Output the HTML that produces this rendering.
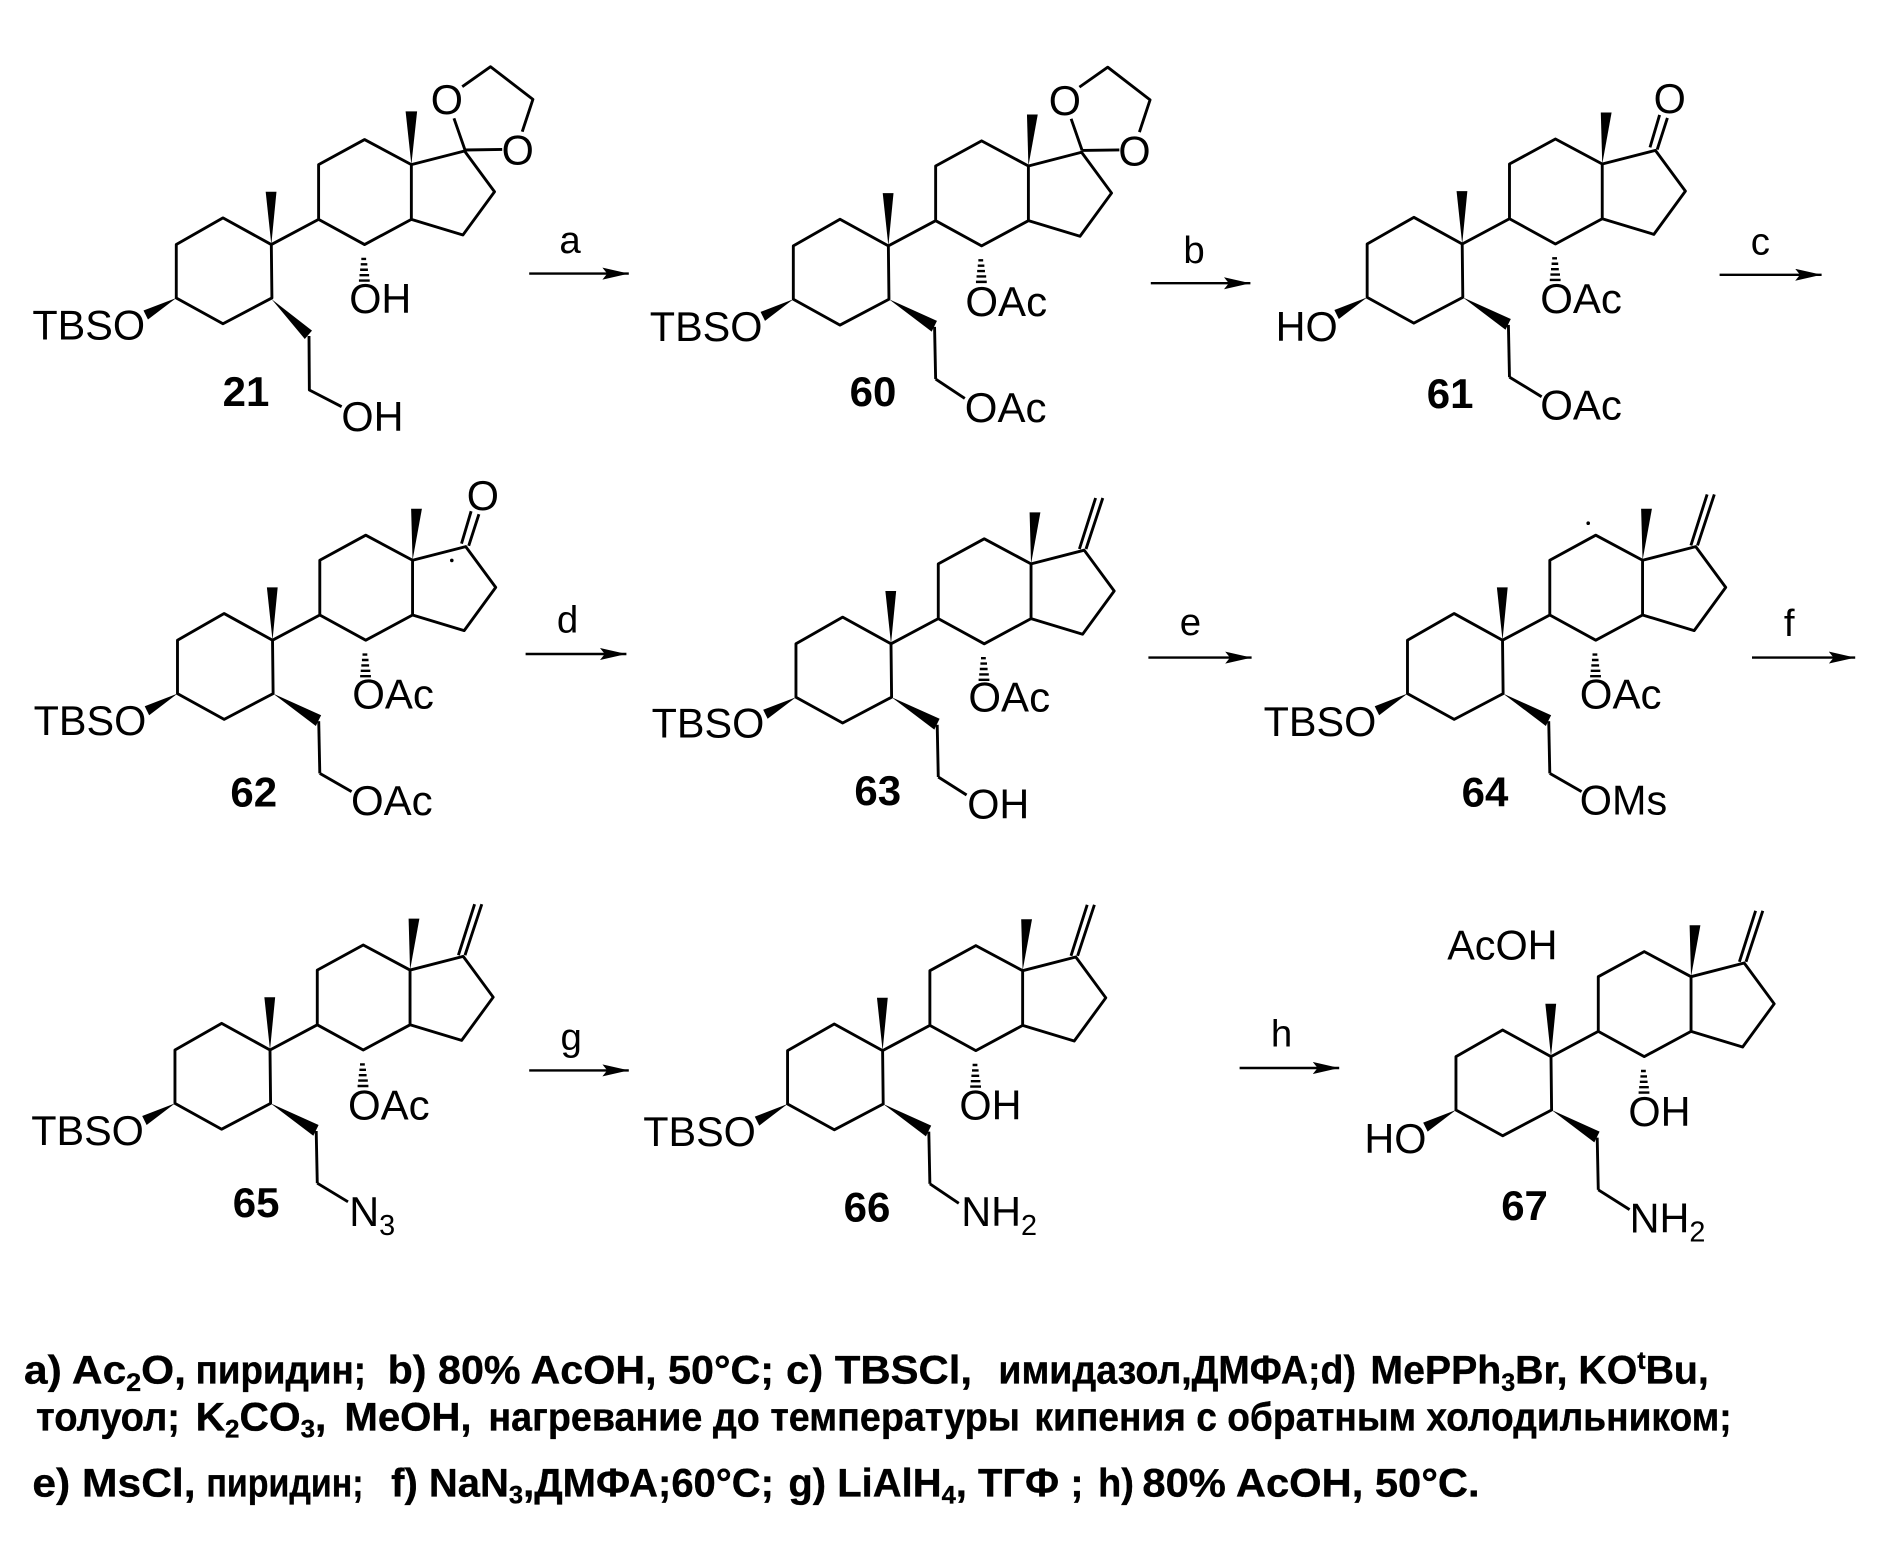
<!DOCTYPE html>
<html><head><meta charset="utf-8"><style>
html,body{margin:0;padding:0;background:#fff}
svg{display:block}
text{font-family:"Liberation Sans",sans-serif;fill:#000}
.b{font-weight:700;font-size:35px}
.t{font-size:34.5px}
.o{font-size:35px}
.a{font-size:32px}
.n{font-weight:700;font-size:33px;stroke:#000;stroke-width:.3}
.s{font-size:24px}
.ns{font-size:21px}
.l{fill:none;stroke:#000;stroke-width:2.4;stroke-linejoin:round}
</style></head><body>
<svg xmlns="http://www.w3.org/2000/svg" width="1881" height="1557" viewBox="0 0 1567.5 1297.5">
<rect width="1567.5" height="1297.5" fill="#fff"/>
<defs>
<g id="m">
<path class="l" d="M146.3 249L146.3 204.5L185.2 182.3L225.5 204.5L226 249L185.2 270.5ZM225.5 204.5L264.9 183.5L264.9 137.9L303.2 117L342.2 137.9L342.2 183.5L303.2 204.5L264.9 183.5M342.2 137.9L386.5 126.5L411.5 160.5L385.2 196.5L342.2 183.5"/>
<polygon points="225.5,204.5 220.8,160.5 229.8,160.5"/>
<polygon points="146.3,249 119,259.5 122.7,267"/>
<path d="M300.5 216.5h4M300 221h5.5M299.5 225.5h6.5M299 230h8M298.5 234.5h9" stroke="#000" stroke-width="2"/>
</g>
<g id="w">
<polygon points="342.2,137.9 341,95 350,95"/>
<polygon points="226,249 266,267 261.6,276"/>
<path class="l" d="M264 272L264.9 315.5"/>
</g>
<g id="d"><path class="l" d="M387 125L377.8 98.6M387 125L418 124.5M384.7 72.2L408.3 55.6L443.6 82.8L434.7 109.7"/></g>
<g id="k"><path class="l" d="M382 124L390 97M388 125.8L396.5 99.5"/></g>
<g id="c"><path class="l" d="M382.5 125.5L396 83M388 125.5L402 83"/></g>
<marker id="h" markerWidth="24" markerHeight="12" refX="22" refY="5" orient="auto" markerUnits="userSpaceOnUse"><path d="M0 0L22 5L0 10L4 5Z"/></marker>
</defs>

<!-- 21 -->
<g transform="translate(0.6 -0.7)"><use href="#m"/><polygon points="342.2,137.9 337.4,93.5 347,93.5"/></g>
<polygon points="226.4,249.4 260,275.5 254,282.5"/>
<path class="l" d="M257.5 280L257.8 325L284.7 338.9"/>
<use href="#d" x="0.5"/>
<text class="t" x="27" y="283">TBSO</text><text class="t" x="291" y="261">OH</text><text class="t" x="284.5" y="359">OH</text>
<text class="t" x="359" y="95">O</text><text class="t" x="418" y="137">O</text>
<text class="b" x="185.5" y="338.3">21</text>

<!-- 60 -->
<g transform="translate(514.8 0.4)"><use href="#m"/><use href="#w"/><use href="#d"/></g>
<path class="l" d="M779.7 315.9L804 332"/>
<text class="t" x="541.5" y="284">TBSO</text><text class="o" x="804.5" y="263.5">OAc</text><text class="o" x="804" y="351.5">OAc</text>
<text class="t" x="874" y="96">O</text><text class="t" x="932" y="138">O</text>
<text class="b" x="708" y="338.3">60</text>

<!-- 61 -->
<g transform="translate(993 -1.2)"><use href="#m"/><use href="#w"/><use href="#k"/></g>
<path class="l" d="M1257.9 314.3L1284.7 330.6"/>
<text class="t" x="1063" y="284">HO</text><text class="o" x="1283.5" y="261">OAc</text><text class="o" x="1283.5" y="349.5">OAc</text>
<text class="t" x="1378" y="94">O</text>
<text class="b" x="1189" y="340">61</text>

<!-- 62 -->
<g transform="translate(1.6 329)"><use href="#m"/><use href="#w"/><use href="#k" x="1"/></g>
<path class="l" d="M266.5 644.5L293 659.7"/>
<circle cx="376.5" cy="467" r="1.5"/>
<text class="t" x="28" y="612.5">TBSO</text><text class="o" x="293.5" y="590.5">OAc</text><text class="o" x="292.5" y="679">OAc</text>
<text class="t" x="389" y="425">O</text>
<text class="b" x="192" y="672.2">62</text>

<!-- 63 -->
<g transform="translate(517 332)"><use href="#m"/><use href="#w"/><use href="#c"/></g>
<path class="l" d="M781.9 647.5L805.5 662.5"/>
<text class="t" x="543" y="614.5">TBSO</text><text class="o" x="807" y="593">OAc</text><text class="t" x="806" y="682">OH</text>
<text class="b" x="712" y="671">63</text>

<!-- 64 -->
<g transform="translate(1026.6 329)"><use href="#m"/><use href="#w"/><use href="#c"/></g>
<path class="l" d="M1291.5 644.5L1318 659.7"/>
<circle cx="1323.5" cy="436" r="1.5"/>
<text class="t" x="1053" y="613.3">TBSO</text><text class="o" x="1316.5" y="590.5">OAc</text><text class="t" x="1316.5" y="678.6">OMs</text>
<text class="b" x="1218" y="672.2">64</text>

<!-- 65 -->
<g transform="translate(-0.5 670.5)"><use href="#m"/><use href="#w"/><use href="#c"/></g>
<path class="l" d="M264.4 986L290 1001.5"/>
<text class="t" x="26" y="954">TBSO</text><text class="o" x="290" y="932.8">OAc</text>
<text class="t" x="291" y="1021.5">N<tspan class="s" dy="7.5">3</tspan></text>
<text class="b" x="194" y="1014">65</text>

<!-- 66 -->
<g transform="translate(510 671)"><use href="#m"/><use href="#w"/><use href="#c"/></g>
<path class="l" d="M774.9 986.5L799 1002.8"/>
<text class="t" x="536" y="955">TBSO</text><text class="t" x="799.5" y="932.8">OH</text>
<text class="t" x="801" y="1021.5">NH<tspan class="s" dy="7.5">2</tspan></text>
<text class="b" x="703" y="1018">66</text>

<!-- 67 -->
<g transform="translate(1067 676)"><use href="#m"/><use href="#w"/><use href="#c"/></g>
<path class="l" d="M1331.9 991.5L1358 1008"/>
<text class="t" x="1206" y="799.5">AcOH</text>
<text class="t" x="1137" y="961">HO</text><text class="t" x="1357" y="938.3">OH</text>
<text class="t" x="1358" y="1027">NH<tspan class="s" dy="7.5">2</tspan></text>
<text class="b" x="1251" y="1016.7">67</text>

<!-- arrows -->
<g stroke="#000" stroke-width="2">
<line x1="441" y1="228" x2="524" y2="228" marker-end="url(#h)"/>
<line x1="959" y1="236" x2="1042" y2="236" marker-end="url(#h)"/>
<line x1="1433" y1="229" x2="1518" y2="229" marker-end="url(#h)"/>
<line x1="438" y1="545" x2="522" y2="545" marker-end="url(#h)"/>
<line x1="957" y1="548" x2="1043" y2="548" marker-end="url(#h)"/>
<line x1="1460" y1="548" x2="1546" y2="548" marker-end="url(#h)"/>
<line x1="441" y1="892" x2="524" y2="892" marker-end="url(#h)"/>
<line x1="1033" y1="890" x2="1116" y2="890" marker-end="url(#h)"/>
</g>
<g text-anchor="middle">
<text class="a" x="475" y="211">a</text>
<text class="a" x="995" y="219">b</text>
<text class="a" x="1467" y="212">c</text>
<text class="a" x="473" y="527">d</text>
<text class="a" x="992" y="529">e</text>
<text class="a" x="1491" y="530">f</text>
<text class="a" x="476" y="875">g</text>
<text class="a" x="1068" y="872">h</text>
</g>

<!-- footnote -->
<text class="n" x="20" y="1153" textLength="135" lengthAdjust="spacingAndGlyphs">a) Ac<tspan class="ns" dy="6">2</tspan><tspan dy="-6">O,</tspan></text>
<text class="n" x="163" y="1153" textLength="142" lengthAdjust="spacingAndGlyphs">пиридин;</text>
<text class="n" x="323" y="1153" textLength="322" lengthAdjust="spacingAndGlyphs">b) 80% AcOH, 50°C;</text>
<text class="n" x="655" y="1153" textLength="155" lengthAdjust="spacingAndGlyphs">c) TBSCl,</text>
<text class="n" x="832" y="1153" textLength="298" lengthAdjust="spacingAndGlyphs">имидазол,ДМФА;d)</text>
<text class="n" x="1142" y="1153" textLength="282" lengthAdjust="spacingAndGlyphs">MePPh<tspan class="ns" dy="6">3</tspan><tspan dy="-6">Br, KO</tspan><tspan class="ns" dy="-12">t</tspan><tspan dy="12">Bu,</tspan></text>

<text class="n" x="30" y="1192" textLength="120" lengthAdjust="spacingAndGlyphs">толуол;</text>
<text class="n" x="163" y="1192" textLength="109" lengthAdjust="spacingAndGlyphs">K<tspan class="ns" dy="6">2</tspan><tspan dy="-6">CO</tspan><tspan class="ns" dy="6">3</tspan><tspan dy="-6">,</tspan></text>
<text class="n" x="287" y="1192" textLength="106" lengthAdjust="spacingAndGlyphs">MeOH,</text>
<text class="n" x="407" y="1192" textLength="443" lengthAdjust="spacingAndGlyphs">нагревание до температуры</text>
<text class="n" x="862" y="1192" textLength="581" lengthAdjust="spacingAndGlyphs">кипения с обратным холодильником;</text>

<text class="n" x="27" y="1247" textLength="136" lengthAdjust="spacingAndGlyphs">e) MsCl,</text>
<text class="n" x="172" y="1247" textLength="131" lengthAdjust="spacingAndGlyphs">пиридин;</text>
<text class="n" x="326" y="1247" textLength="319" lengthAdjust="spacingAndGlyphs">f) NaN<tspan class="ns" dy="6">3</tspan><tspan dy="-6">,ДМФА;60°C;</tspan></text>
<text class="n" x="657" y="1247" textLength="246" lengthAdjust="spacingAndGlyphs">g) LiAlH<tspan class="ns" dy="6">4</tspan><tspan dy="-6">, ТГФ ;</tspan></text>
<text class="n" x="915" y="1247" textLength="30" lengthAdjust="spacingAndGlyphs">h)</text>
<text class="n" x="952" y="1247" textLength="281" lengthAdjust="spacingAndGlyphs">80% AcOH, 50°C.</text>
</svg>
</body></html>
